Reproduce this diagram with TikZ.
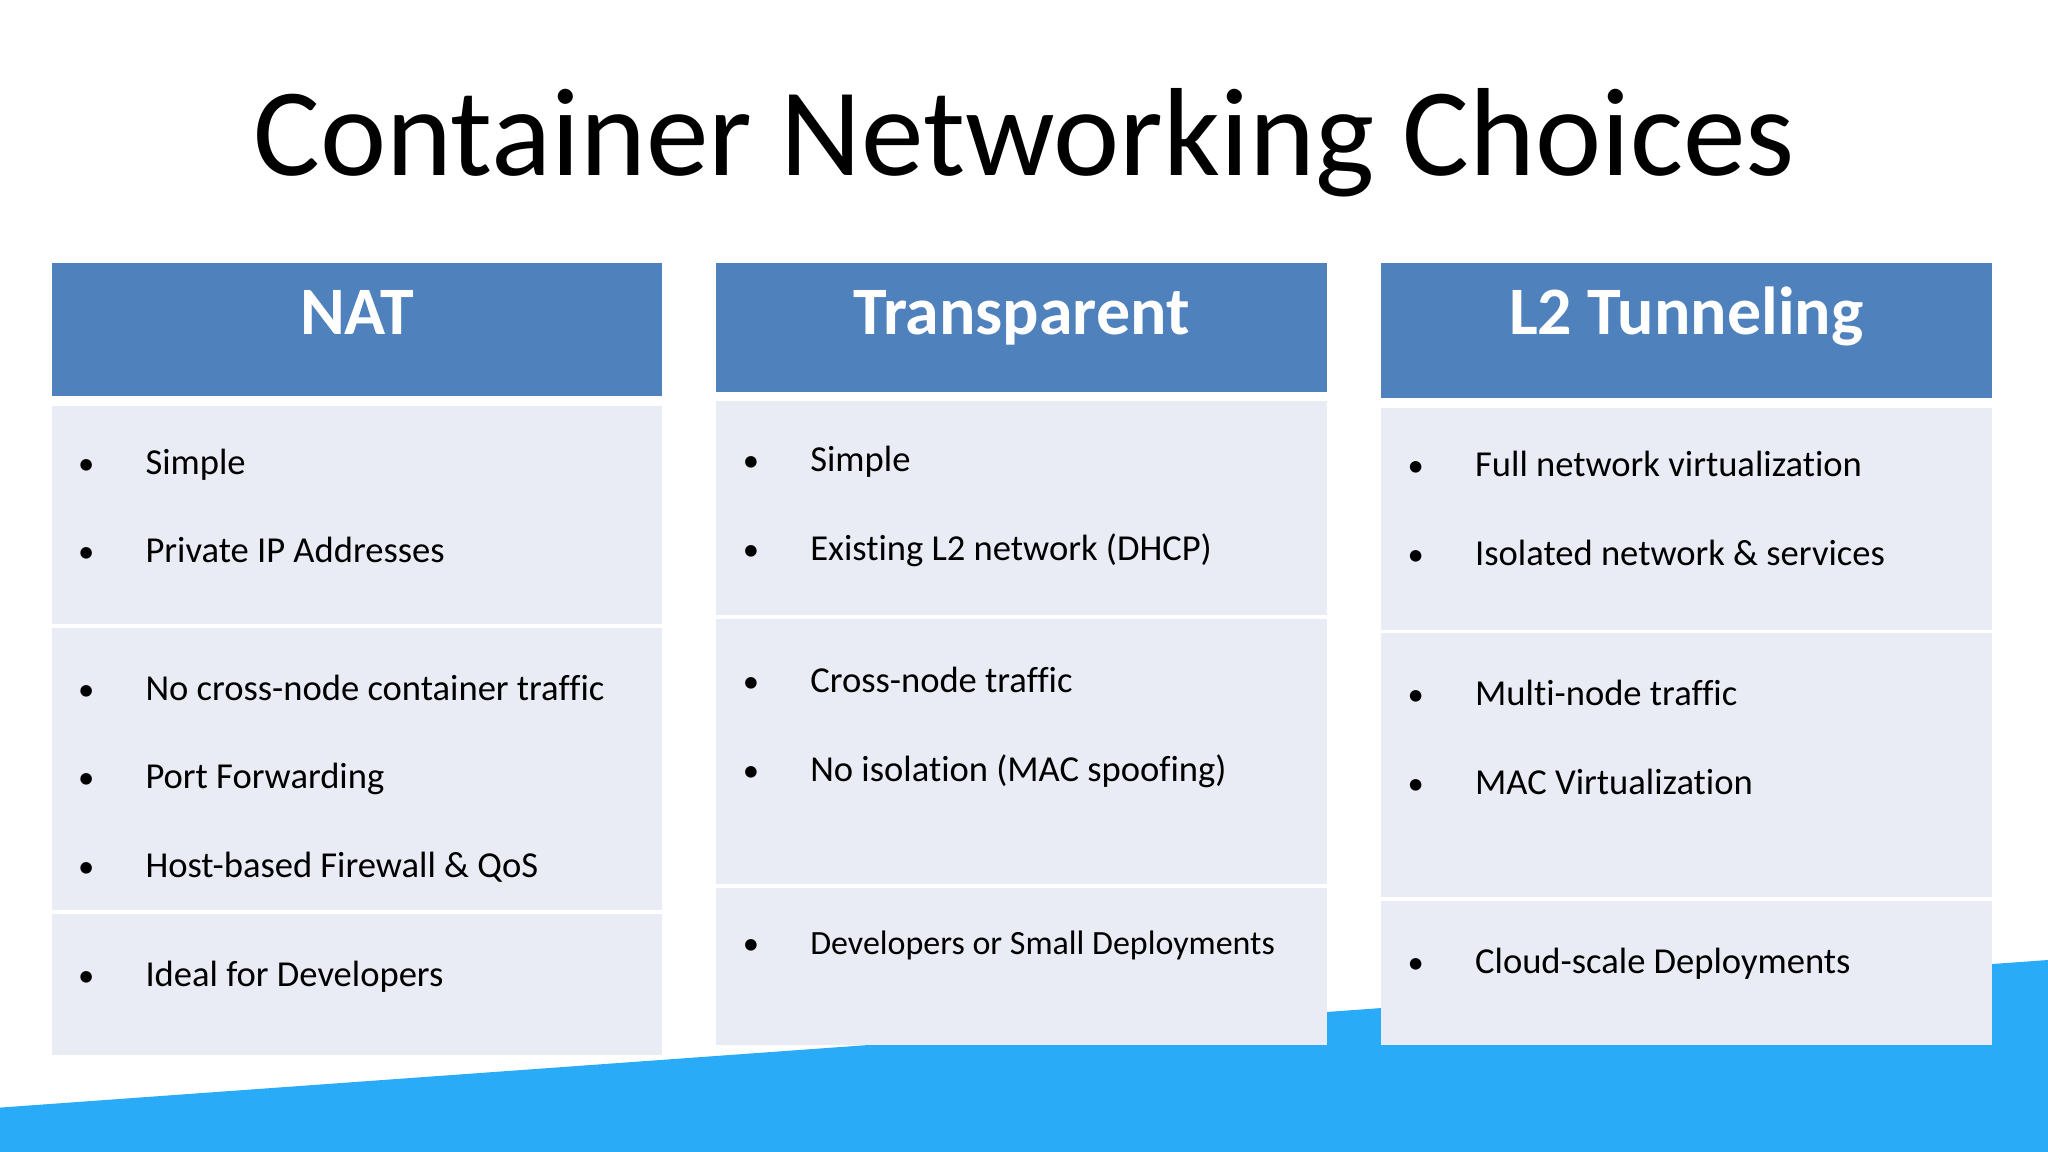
\documentclass[tikz,border=0pt]{standalone}
\usepackage{fontspec}
\setmainfont[Ligatures=NoCommon]{Carlito}
\definecolor{hdr}{HTML}{4F81BD}
\definecolor{rowc}{HTML}{E9EBF5}
\definecolor{wave}{HTML}{29ABF8}
\tikzset{
 hbox/.style={fill=hdr,draw=none},
 rbox/.style={fill=rowc,draw=none},
 htext/.style={text=white,font=\bfseries\fontsize{26}{30}\selectfont,anchor=base},
 btext/.style={font=\fontsize{14}{17}\selectfont,anchor=base west,inner sep=0pt},
 bul/.style={font=\fontsize{12.5}{15}\selectfont,anchor=base,inner sep=0pt}
}
\begin{document}
\begin{tikzpicture}[x=0.5pt,y=-0.5pt]
\useasboundingbox (0,0) rectangle (1568,882);
\fill[white] (0,0) rectangle (1568,882);
\fill[wave] (0,848) -- (1568,735) -- (1568,882) -- (0,882) -- cycle;
\node[font=\fontsize{48}{58}\selectfont,anchor=base] (title) at (784,134) {Container Networking Choices};
% column 1
\fill[hbox] (40,201) rectangle (507,303);
\node[htext] (h1) at (273.5,256) {NAT};
\fill[rbox] (40,311) rectangle (507,478);
\fill[rbox] (40,481) rectangle (507,697);
\fill[rbox] (40,700) rectangle (507,808);
% column 2
\fill[hbox] (548,201) rectangle (1016,300);
\node[htext] (h2) at (782,256) {Transparent};
\fill[rbox] (548,307) rectangle (1016,471);
\fill[rbox] (548,474) rectangle (1016,677);
\fill[rbox] (548,680) rectangle (1016,800);
% column 3
\fill[hbox] (1057,201) rectangle (1525,305);
\node[htext] (h3) at (1291,256) {L2 Tunneling};
\fill[rbox] (1057,312) rectangle (1525,482);
\fill[rbox] (1057,485) rectangle (1525,687);
\fill[rbox] (1057,690) rectangle (1525,800);
% bullets
\foreach \x/\y/\t [count=\i] in {
 111/363/Simple, 111/431/Private IP Addresses,
 111/536/No cross-node container traffic, 111/604/Port Forwarding,
 111/672/Host-based Firewall \& QoS, 111/755/Ideal for Developers,
 620/361/Simple, 620/429/Existing L2 network (DHCP),
 620/530/Cross-node traffic, 620/598/No isolation (MAC spoofing),
 1129/365/Full network virtualization, 1129/433/Isolated network \& services,
 1129/540/Multi-node traffic, 1129/608/MAC Virtualization,
 1129/745/Cloud-scale Deployments}{
 \node[bul] (b\i) at (\x-45,\y) {•};
 \node[btext] (t\i) at (\x,\y) {\t};
}
\node[bul] (bd) at (575,731) {•};
\node[btext,font=\fontsize{13}{16}\selectfont] (td) at (620,731) {Developers or Small Deployments};
\end{tikzpicture}
\end{document}
